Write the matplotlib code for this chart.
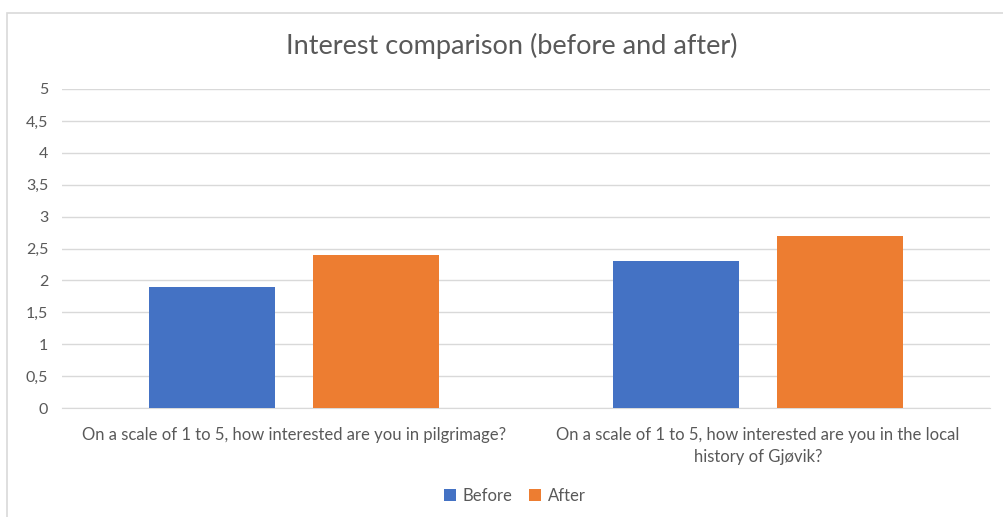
import matplotlib
matplotlib.use("Agg")
import matplotlib.pyplot as plt
from matplotlib.patches import Rectangle
from matplotlib.ticker import FuncFormatter
import numpy as np

plt.rcParams['font.family'] = ['Lato', 'DejaVu Sans']

questions = [
    "On a scale of 1 to 5, how interested are you in pilgrimage?",
    "On a scale of 1 to 5, how interested are you in the local\nhistory of Gjøvik?",
]
before = [1.9, 2.3]
after = [2.4, 2.7]
series_names = ["Before", "After"]
yticks = [0, 0.5, 1, 1.5, 2, 2.5, 3, 3.5, 4, 4.5, 5]

BLUE = "#4472C4"
ORANGE = "#ED7D31"
TEXT = "#595959"
GRID = "#D9D9D9"

fig = plt.figure(figsize=(10.04, 5.17), dpi=100)
ax = fig.add_axes([62 / 1004, 1 - 408 / 517, 928 / 1004, 319 / 517])

# outer chart frame (left + top edges visible)
fig.patches.append(Rectangle((7.5 / 1004, -0.1), 1.2, (1 - 12.5 / 517) + 0.1,
                             transform=fig.transFigure, fill=False,
                             edgecolor="#D9D9D9", linewidth=1.2))

x = np.arange(len(questions))
width = 0.272
offset = 0.176
ax.bar(x - offset, before, width, color=BLUE, label=series_names[0], zorder=3)
ax.bar(x + offset, after, width, color=ORANGE, label=series_names[1], zorder=3)

ax.set_xlim(-0.5, len(questions) - 0.5)
ax.set_ylim(0, 5)
ax.set_yticks(yticks)
ax.yaxis.set_major_formatter(FuncFormatter(lambda v, _: f"{v:g}".replace(".", ",")))
ax.grid(axis="y", color=GRID, linewidth=1, zorder=0)
for side in ["top", "right", "left"]:
    ax.spines[side].set_visible(False)
ax.spines["bottom"].set_color(GRID)
ax.tick_params(axis="y", length=0, labelsize=11.5, labelcolor=TEXT, pad=10)
ax.tick_params(axis="x", length=0, labelsize=12, labelcolor=TEXT, pad=14)
ax.set_xticks(x)
ax.set_xticklabels(questions, ha="center", linespacing=1.45)

fig.text(512 / 1004, 1 - 46 / 517, "Interest comparison (before and after)",
         ha="center", va="center", fontsize=19.5, color=TEXT)

leg = ax.legend(loc="center", bbox_to_anchor=(515 / 1004, 1 - 496 / 517),
                bbox_transform=fig.transFigure, ncol=2, frameon=False,
                fontsize=12, handlelength=0.7, handleheight=0.7,
                handletextpad=0.4, columnspacing=1.0)
for t in leg.get_texts():
    t.set_color(TEXT)

fig.savefig("out.png", dpi=100)
